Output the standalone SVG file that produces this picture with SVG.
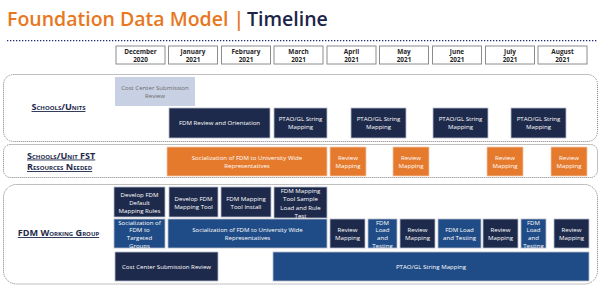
<svg xmlns="http://www.w3.org/2000/svg" width="601" height="293" viewBox="0 0 601 293">
<style>
  text { font-family: "Open Sans", "Noto Sans", "Liberation Sans", sans-serif; }
  .title { font-size: 19.5px; font-weight: 600; }
  .mbox { fill: #ffffff; stroke: #8c8c8c; stroke-width: 1; }
  .mtxt { font-size: 6.4px; font-weight: 700; fill: #1f1f1f; text-anchor: middle; }
  .lane { fill: none; stroke: #7f7f7f; stroke-width: 1; stroke-dasharray: 1 1; }
  .lbl { font-size: 9.1px; font-weight: 700; font-variant: small-caps; text-decoration: underline; fill: #1e2a4b; }
  .navy { fill: #1e2a4b; stroke: #b7bccb; stroke-width: 0.8; }
  .blue { fill: #1f4c86; stroke: #b7bccb; stroke-width: 0.8; }
  .orange { fill: #e57a2d; stroke: #f3c9a8; stroke-width: 0.8; }
  .light { fill: #c8d0e4; }
  .t { font-size: 6.1px; fill: #ffffff; text-anchor: middle; }
  .tg { font-size: 6.1px; fill: #6b6b6b; text-anchor: middle; }
</style>
<defs>
  <clipPath id="clipTG"><rect x="114" y="219" width="51" height="29"/></clipPath>
  <clipPath id="clipL1"><rect x="368" y="219" width="29" height="29"/></clipPath>
  <clipPath id="clipL3"><rect x="521" y="219" width="25" height="29"/></clipPath>
  <clipPath id="clipSL"><rect x="274" y="187" width="53" height="31"/></clipPath>
</defs>

<g id="title">
  <text class="title" x="7" y="26" fill="#e87722">Foundation Data Model |</text>
  <text class="title" x="247" y="26" fill="#1b2548">Timeline</text>
  <line x1="7" y1="40.7" x2="597" y2="40.7" stroke="#1f2a6e" stroke-width="1.3" stroke-dasharray="1.3 1.7"/>
</g>

<g id="months">
  <g id="m-dec"><rect class="mbox" x="116" y="46" width="49" height="18"/><text class="mtxt" x="140.5" y="54.3">December</text><text class="mtxt" x="140.5" y="62.3">2020</text></g>
  <g id="m-jan"><rect class="mbox" x="168.5" y="46" width="49" height="18"/><text class="mtxt" x="193" y="54.3">January</text><text class="mtxt" x="193" y="62.3">2021</text></g>
  <g id="m-feb"><rect class="mbox" x="221.5" y="46" width="49" height="18"/><text class="mtxt" x="246" y="54.3">February</text><text class="mtxt" x="246" y="62.3">2021</text></g>
  <g id="m-mar"><rect class="mbox" x="274" y="46" width="49" height="18"/><text class="mtxt" x="298.5" y="54.3">March</text><text class="mtxt" x="298.5" y="62.3">2021</text></g>
  <g id="m-apr"><rect class="mbox" x="327" y="46" width="49" height="18"/><text class="mtxt" x="351.5" y="54.3">April</text><text class="mtxt" x="351.5" y="62.3">2021</text></g>
  <g id="m-may"><rect class="mbox" x="379.5" y="46" width="49" height="18"/><text class="mtxt" x="404" y="54.3">May</text><text class="mtxt" x="404" y="62.3">2021</text></g>
  <g id="m-jun"><rect class="mbox" x="432.5" y="46" width="49" height="18"/><text class="mtxt" x="457" y="54.3">June</text><text class="mtxt" x="457" y="62.3">2021</text></g>
  <g id="m-jul"><rect class="mbox" x="485.5" y="46" width="49" height="18"/><text class="mtxt" x="510" y="54.3">July</text><text class="mtxt" x="510" y="62.3">2021</text></g>
  <g id="m-aug"><rect class="mbox" x="538" y="46" width="49" height="18"/><text class="mtxt" x="562.5" y="54.3">August</text><text class="mtxt" x="562.5" y="62.3">2021</text></g>
</g>

<g id="lane-schools">
  <rect class="lane" x="3.5" y="74.5" width="594" height="67" rx="10"/>
  <text class="lbl" x="58.5" y="110" text-anchor="middle">Schools/Units</text>
</g>
<g id="lane-fst">
  <rect class="lane" x="3.5" y="144.5" width="594" height="33" rx="7"/>
  <text class="lbl" x="27" y="158.5">Schools/Unit FST</text>
  <text class="lbl" x="27" y="170">Resources Needed</text>
</g>
<g id="lane-fdm">
  <rect class="lane" x="3.5" y="184.5" width="594" height="99.5" rx="13"/>
  <text class="lbl" x="58.5" y="236" text-anchor="middle">FDM Working Group</text>
</g>

<!-- Schools/Units -->
<g id="su-ccsr"><rect class="light" x="115" y="77" width="80" height="29"/><text class="tg" x="155" y="89.8">Cost Center Submission</text><text class="tg" x="155" y="97.6">Review</text></g>
<g id="su-fdmro"><rect class="navy" x="169" y="108" width="101" height="30"/><text class="t" x="219.5" y="125.2">FDM Review and Orientation</text></g>
<g id="su-ptao1"><rect class="navy" x="274" y="108" width="53" height="30"/><text class="t" x="300.5" y="121.2">PTAO/GL String</text><text class="t" x="300.5" y="129.4">Mapping</text></g>
<g id="su-ptao2"><rect class="navy" x="351" y="108" width="55" height="30"/><text class="t" x="378.5" y="121.2">PTAO/GL String</text><text class="t" x="378.5" y="129.4">Mapping</text></g>
<g id="su-ptao3"><rect class="navy" x="433" y="108" width="55" height="30"/><text class="t" x="460.5" y="121.2">PTAO/GL String</text><text class="t" x="460.5" y="129.4">Mapping</text></g>
<g id="su-ptao4"><rect class="navy" x="511" y="108" width="55" height="30"/><text class="t" x="538.5" y="121.2">PTAO/GL String</text><text class="t" x="538.5" y="129.4">Mapping</text></g>

<!-- FST resources -->
<g id="fst-soc"><rect class="orange" x="167" y="147" width="160" height="29"/><text class="t" x="247" y="159.5">Socialization of FDM to University Wide</text><text class="t" x="247" y="168">Representatives</text></g>
<g id="fst-rm1"><rect class="orange" x="330" y="147" width="36" height="29"/><text class="t" x="348" y="159.5">Review</text><text class="t" x="348" y="168">Mapping</text></g>
<g id="fst-rm2"><rect class="orange" x="393" y="147" width="36" height="29"/><text class="t" x="411" y="159.5">Review</text><text class="t" x="411" y="168">Mapping</text></g>
<g id="fst-rm3"><rect class="orange" x="487" y="147" width="36" height="29"/><text class="t" x="505" y="159.5">Review</text><text class="t" x="505" y="168">Mapping</text></g>
<g id="fst-rm4"><rect class="orange" x="551" y="147" width="36" height="29"/><text class="t" x="569" y="159.5">Review</text><text class="t" x="569" y="168">Mapping</text></g>

<!-- FDM Working Group, row 1 -->
<g id="wg-rules"><rect class="navy" x="114" y="187" width="51" height="30"/><text class="t" x="139.5" y="197.2">Develop FDM</text><text class="t" x="139.5" y="205">Default</text><text class="t" x="139.5" y="212.8">Mapping Rules</text></g>
<g id="wg-tool"><rect class="navy" x="169" y="187" width="49" height="30"/><text class="t" x="193.5" y="200.8">Develop FDM</text><text class="t" x="193.5" y="208.8">Mapping Tool</text></g>
<g id="wg-install"><rect class="navy" x="221" y="187" width="50" height="30"/><text class="t" x="246" y="200.8">FDM Mapping</text><text class="t" x="246" y="208.8">Tool Install</text></g>
<g id="wg-sample"><rect class="navy" x="274" y="187" width="53" height="31"/><g clip-path="url(#clipSL)"><text class="t" x="300.5" y="193">FDM Mapping</text><text class="t" x="300.5" y="201.3">Tool Sample</text><text class="t" x="300.5" y="209.6">Load and Rule</text><text class="t" x="300.5" y="217.9">Test</text></g></g>

<!-- FDM Working Group, row 2 -->
<g id="wg-soctg"><rect class="blue" x="114" y="219" width="51" height="29"/><g clip-path="url(#clipTG)"><text class="t" x="139.5" y="224.5">Socialization of</text><text class="t" x="139.5" y="232.2">FDM to</text><text class="t" x="139.5" y="239.9">Targeted</text><text class="t" x="139.5" y="247.8">Groups</text></g></g>
<g id="wg-socuw"><rect class="blue" x="168" y="219" width="159" height="29"/><text class="t" x="247.5" y="231.5">Socialization of FDM to University Wide</text><text class="t" x="247.5" y="239.5">Representatives</text></g>
<g id="wg-rm1"><rect class="navy" x="330" y="219" width="35" height="29"/><text class="t" x="347.5" y="232">Review</text><text class="t" x="347.5" y="240.4">Mapping</text></g>
<g id="wg-lt1"><rect class="blue" x="368" y="219" width="29" height="29"/><g clip-path="url(#clipL1)"><text class="t" x="382.5" y="224.5">FDM</text><text class="t" x="382.5" y="232.2">Load</text><text class="t" x="382.5" y="239.9">and</text><text class="t" x="382.5" y="247.8">Testing</text></g></g>
<g id="wg-rm2"><rect class="navy" x="400" y="219" width="35" height="29"/><text class="t" x="417.5" y="232">Review</text><text class="t" x="417.5" y="240.4">Mapping</text></g>
<g id="wg-lt2"><rect class="blue" x="438" y="219" width="43" height="29"/><text class="t" x="459.5" y="232">FDM Load</text><text class="t" x="459.5" y="240.2">and Testing</text></g>
<g id="wg-rm3"><rect class="navy" x="483" y="219" width="35" height="29"/><text class="t" x="500.5" y="232">Review</text><text class="t" x="500.5" y="240.4">Mapping</text></g>
<g id="wg-lt3"><rect class="blue" x="521" y="219" width="25" height="29"/><g clip-path="url(#clipL3)"><text class="t" x="533.5" y="224.5">FDM</text><text class="t" x="533.5" y="232.2">Load</text><text class="t" x="533.5" y="239.9">and</text><text class="t" x="533.5" y="247.8">Testing</text></g></g>
<g id="wg-rm4"><rect class="navy" x="554" y="219" width="35" height="29"/><text class="t" x="571.5" y="232">Review</text><text class="t" x="571.5" y="240.4">Mapping</text></g>

<!-- FDM Working Group, row 3 -->
<g id="wg-ccsr"><rect class="navy" x="115" y="252" width="103" height="29"/><text class="t" x="166.5" y="269.3">Cost Center Submission Review</text></g>
<g id="wg-ptao"><rect class="blue" x="273" y="252" width="316" height="29"/><text class="t" x="431" y="269.3">PTAO/GL String Mapping</text></g>
</svg>
